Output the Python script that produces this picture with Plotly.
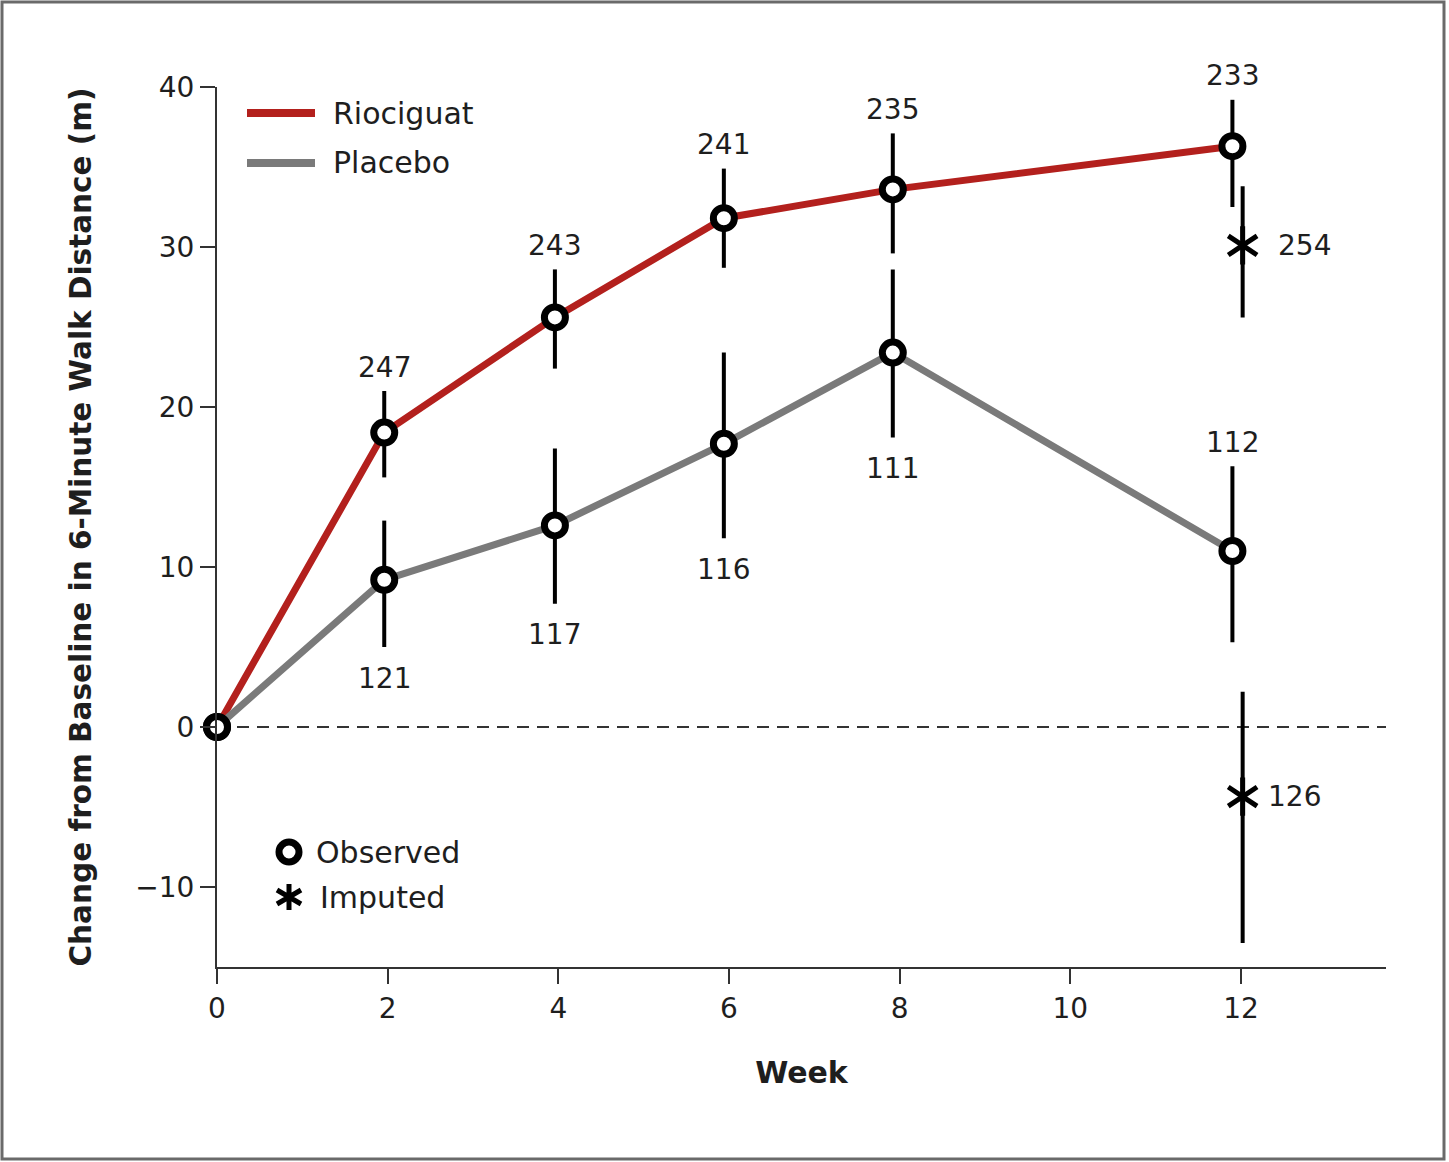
import plotly.graph_objects as go

# ---------------- data ----------------
weeks_obs = [0, 1.96, 3.96, 5.94, 7.92, 11.90]
rio_mean = [0, 18.4, 25.6, 31.8, 33.6, 36.3]
rio_upper = [0, 21.0, 28.6, 34.9, 37.1, 39.2]
rio_lower = [0, 15.6, 22.4, 28.7, 29.6, 32.5]
rio_n = ["", "247", "243", "241", "235", "233"]

pla_mean = [0, 9.2, 12.6, 17.7, 23.4, 11.0]
pla_upper = [0, 12.9, 17.4, 23.4, 28.6, 16.3]
pla_lower = [0, 5.0, 7.7, 11.8, 18.1, 5.3]
pla_n = ["", "121", "117", "116", "111", "112"]
pla_label_above = [False, False, False, False, False, True]

imp_week = [12.02, 12.02]
imp_mean = [30.1, -4.35]
imp_upper = [33.8, 2.2]
imp_lower = [25.6, -13.5]
imp_n = ["254", "126"]

x_ticks = [0, 2, 4, 6, 8, 10, 12]
y_ticks = [-10, 0, 10, 20, 30, 40]

RED = "#b3201d"
GRAY = "#7a7a7a"
TXT = "#1e1e1e"
FONT = "DejaVu Sans"

W, H = 1449, 1162
ML, MR, MT, MB = 217, 63, 87, 195
PW, PH = W - ML - MR, H - MT - MB


def px_x(p):
    return (p - ML) / PW


def px_y(p):
    return (H - MB - p) / PH


fig = go.Figure()

# lines
fig.add_trace(go.Scatter(x=weeks_obs, y=rio_mean, mode="lines", cliponaxis=False,
                         line=dict(color=RED, width=7), hoverinfo="skip"))
fig.add_trace(go.Scatter(x=weeks_obs, y=pla_mean, mode="lines", cliponaxis=False,
                         line=dict(color=GRAY, width=7), hoverinfo="skip"))


def err(mean, up, lo):
    return dict(type="data", symmetric=False,
                array=[u - m for u, m in zip(up, mean)],
                arrayminus=[m - l for m, l in zip(mean, lo)],
                color="black", thickness=4, width=0)


marker_obs = dict(symbol="circle", size=21, color="white",
                  line=dict(color="black", width=7))

fig.add_trace(go.Scatter(x=weeks_obs, y=pla_mean, mode="markers", cliponaxis=False,
                         error_y=err(pla_mean, pla_upper, pla_lower),
                         marker=marker_obs))
fig.add_trace(go.Scatter(x=weeks_obs, y=rio_mean, mode="markers", cliponaxis=False,
                         error_y=err(rio_mean, rio_upper, rio_lower),
                         marker=marker_obs))

# imputed (asterisk built from two overlaid symbols)
fig.add_trace(go.Scatter(x=imp_week, y=imp_mean, mode="markers",
                         error_y=err(imp_mean, imp_upper, imp_lower),
                         marker=dict(symbol="y-up-open", size=24, color="black",
                                     line=dict(color="black", width=5))))
fig.add_trace(go.Scatter(x=imp_week, y=imp_mean, mode="markers",
                         marker=dict(symbol="y-down-open", size=24, color="black",
                                     line=dict(color="black", width=5))))

annotations = []
# N labels
for x, u, t in zip(weeks_obs, rio_upper, rio_n):
    if t:
        annotations.append(dict(x=x, y=u, text=t, showarrow=False, yanchor="middle",
                                yshift=24, font=dict(size=28, color=TXT, family=FONT)))
for x, u, l, t, above in zip(weeks_obs, pla_upper, pla_lower, pla_n, pla_label_above):
    if t:
        if above:
            annotations.append(dict(x=x, y=u, text=t, showarrow=False, yanchor="middle",
                                    yshift=24, font=dict(size=28, color=TXT, family=FONT)))
        else:
            annotations.append(dict(x=x, y=l, text=t, showarrow=False, yanchor="middle",
                                    yshift=-31, font=dict(size=28, color=TXT, family=FONT)))
for x, m, t, xs in zip(imp_week, imp_mean, imp_n, [33, 23]):
    annotations.append(dict(x=x, y=m, text=t, showarrow=False, xanchor="left",
                            yanchor="middle", xshift=xs,
                            font=dict(size=28, color=TXT, family=FONT)))

# legends (drawn manually)
legend_items = [("Riociguat", RED, 113), ("Placebo", GRAY, 163)]
shapes = []
for name, col, py in legend_items:
    shapes.append(dict(type="line", xref="paper", yref="paper",
                       x0=px_x(247), x1=px_x(315), y0=px_y(py), y1=px_y(py),
                       line=dict(color=col, width=8)))
    annotations.append(dict(xref="paper", yref="paper", x=px_x(331), y=px_y(py),
                            text=name, showarrow=False, xanchor="left", yanchor="middle",
                            font=dict(size=30, color=TXT, family=FONT)))

shapes.append(dict(type="circle", xref="paper", yref="paper",
                   xsizemode="pixel", ysizemode="pixel",
                   xanchor=px_x(289), yanchor=px_y(852),
                   x0=-10, x1=10, y0=-10, y1=10,
                   fillcolor="white", line=dict(color="black", width=7)))
shapes.append(dict(type="path", xref="paper", yref="paper",
                   xsizemode="pixel", ysizemode="pixel",
                   xanchor=px_x(289), yanchor=px_y(897),
                   path="M0,-13 L0,13 M-12,-7 L12,7 M-12,7 L12,-7",
                   line=dict(color="black", width=5)))
annotations.append(dict(xref="paper", yref="paper", x=px_x(314), y=px_y(852),
                        text="Observed", showarrow=False, xanchor="left", yanchor="middle",
                        font=dict(size=30, color=TXT, family=FONT)))
annotations.append(dict(xref="paper", yref="paper", x=px_x(318), y=px_y(897),
                        text="Imputed", showarrow=False, xanchor="left", yanchor="middle",
                        font=dict(size=30, color=TXT, family=FONT)))

# zero reference line
shapes.append(dict(type="line", xref="paper", yref="y", x0=0, x1=1, y0=0, y1=0,
                   line=dict(color="#333333", width=2, dash="12px,8px"), layer="below"))

# outer frame
shapes.append(dict(type="rect", xref="paper", yref="paper",
                   x0=px_x(2), x1=px_x(1444), y0=px_y(1159), y1=px_y(2),
                   line=dict(color="#6a6a6a", width=3)))

fig.update_layout(
    width=W, height=H,
    margin=dict(l=ML, r=MR, t=MT, b=MB),
    paper_bgcolor="white", plot_bgcolor="white",
    showlegend=False,
    font=dict(family=FONT, color=TXT, size=28),
    shapes=shapes, annotations=annotations,
)
fig.update_xaxes(range=[0, 13.7], tickvals=x_ticks, showgrid=False, zeroline=False,
                 showline=True, linecolor="#333333", linewidth=2,
                 ticks="outside", ticklen=15, tickwidth=2, tickcolor="#333333",
                 tickfont=dict(size=28, color=TXT, family=FONT),
                 title=dict(text="<b>Week</b>", font=dict(size=30, color=TXT, family=FONT),
                            standoff=38))
fig.update_yaxes(range=[-15, 40], tickvals=y_ticks, showgrid=False, zeroline=False,
                 showline=True, linecolor="#333333", linewidth=2,
                 ticks="outside", ticklen=15, tickwidth=2, tickcolor="#333333",
                 tickfont=dict(size=28, color=TXT, family=FONT),
                 title=dict(text="<b>Change from Baseline in 6-Minute Walk Distance (m)</b>",
                            font=dict(size=29.5, color=TXT, family=FONT), standoff=35))

fig.write_html("out.html", config={"displayModeBar": False},
               post_script="document.body.style.margin='0';document.body.style.padding='0';")
